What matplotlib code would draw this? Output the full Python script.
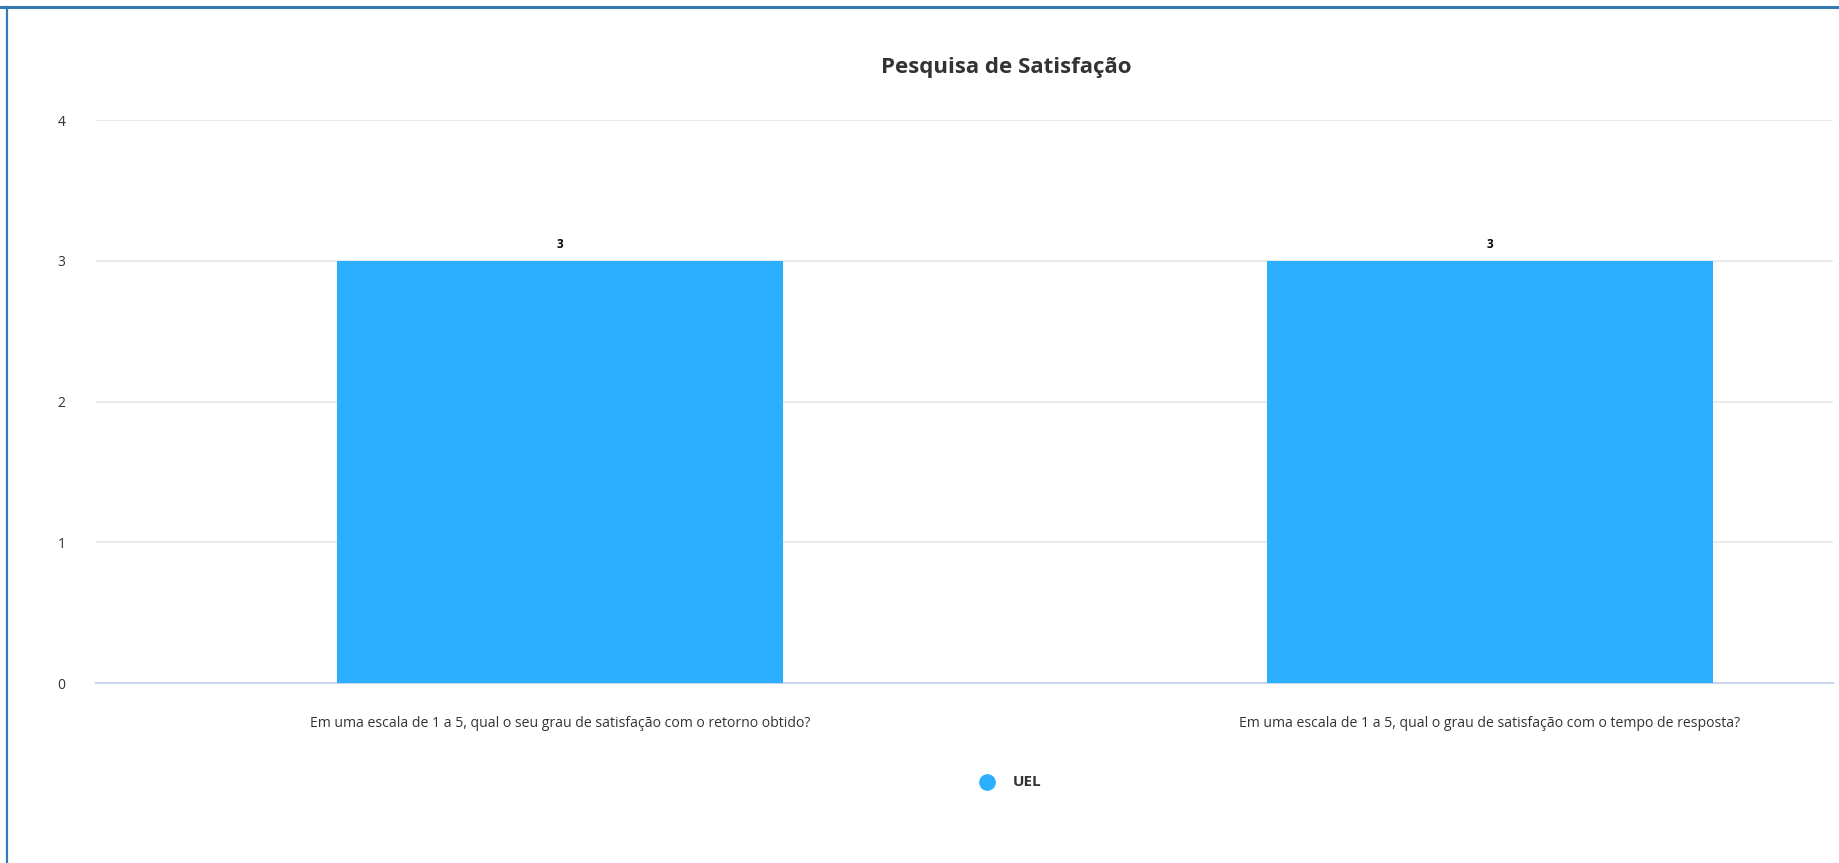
import matplotlib
matplotlib.use("Agg")
import matplotlib.pyplot as plt
from matplotlib.lines import Line2D

plt.rcParams['font.family'] = ['Open Sans', 'DejaVu Sans']

categories = [
    "Em uma escala de 1 a 5, qual o seu grau de satisfação com o retorno obtido?",
    "Em uma escala de 1 a 5, qual o grau de satisfação com o tempo de resposta?",
]
values = [3, 3]
series_name = "UEL"
y_ticks = [0, 1, 2, 3, 4]

BAR_COLOR = "#2caffe"
TEXT_COLOR = "#333333"

fig = plt.figure(figsize=(18.4, 8.63), dpi=100, facecolor="white")
ax = fig.add_axes([96 / 1840, 1 - 683 / 863, (1833 - 96) / 1840, (683 - 120) / 863])

x = list(range(len(categories)))
ax.bar(x, values, width=0.48, color=BAR_COLOR, zorder=3)
for xi, v in zip(x, values):
    ax.annotate(str(v), (xi, v), xytext=(0, 7), textcoords="offset points",
                ha="center", va="bottom", fontsize=8.5, fontweight="bold", color="black")

ax.set_xlim(-0.499, 1.369)
ax.set_ylim(0, 4)
ax.set_yticks(y_ticks)
ax.set_yticklabels([str(t) for t in y_ticks], fontsize=10, color=TEXT_COLOR)
ax.tick_params(axis="y", length=0, pad=22)
ax.tick_params(axis="x", length=0, pad=24)
ax.set_xticks(x)
ax.set_xticklabels(categories, fontsize=10.1, color=TEXT_COLOR)
ax.grid(axis="y", color="#e6e6e6", linewidth=1.2, zorder=0)
for s in ["top", "right", "left"]:
    ax.spines[s].set_visible(False)
ax.spines["bottom"].set_color("#ccd6eb")
ax.spines["bottom"].set_linewidth(1.5)

fig.text(1006 / 1840, 1 - 68 / 863, "Pesquisa de Satisfação", ha="center", va="center",
         fontsize=16, fontweight="bold", color=TEXT_COLOR)

# legend
fig.lines.append(Line2D([987 / 1840], [1 - 782 / 863], marker="o", markersize=11,
                        color=BAR_COLOR, transform=fig.transFigure))
fig.text(1013 / 1840, 1 - 782 / 863, series_name, ha="left", va="center",
         fontsize=11, fontweight="bold", color=TEXT_COLOR)

# container border (top and left)
fig.lines.append(Line2D([0, 1], [1 - 7.5 / 863] * 2, color="#337ab7", linewidth=2.2,
                        transform=fig.transFigure))
fig.lines.append(Line2D([7 / 1840] * 2, [0, 1 - 7 / 863], color="#337ab7", linewidth=1.6,
                        transform=fig.transFigure))

fig.savefig("out.png", dpi=100, facecolor="white")
